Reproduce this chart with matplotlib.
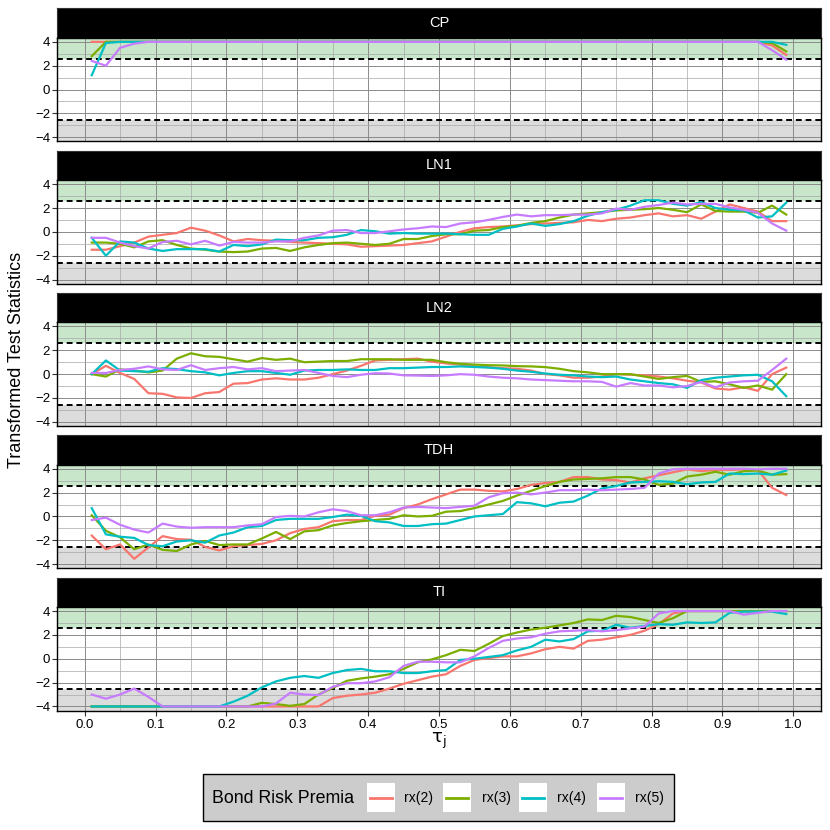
import numpy as np
import matplotlib
matplotlib.use("Agg")
import matplotlib.pyplot as plt
from matplotlib.patches import Rectangle
from matplotlib.lines import Line2D

plt.rcParams['font.family'] = ['Liberation Sans', 'DejaVu Sans']
plt.rcParams['mathtext.fontset'] = 'dejavusans'

# quantile grid
tau = [0.01, 0.03, 0.05, 0.07, 0.09, 0.11, 0.13, 0.15, 0.17, 0.19,
       0.21, 0.23, 0.25, 0.27, 0.29, 0.31, 0.33, 0.35, 0.37, 0.39,
       0.41, 0.43, 0.45, 0.47, 0.49, 0.51, 0.53, 0.55, 0.57, 0.59,
       0.61, 0.63, 0.65, 0.67, 0.69, 0.71, 0.73, 0.75, 0.77, 0.79,
       0.81, 0.83, 0.85, 0.87, 0.89, 0.91, 0.93, 0.95, 0.97, 0.99]

series_labels = ['rx(2)', 'rx(3)', 'rx(4)', 'rx(5)']
panel_names = ['CP', 'LN1', 'LN2', 'TDH', 'TI']
crit = 2.576

# ---- CP
cp_rx2 = [4.0, 4.0, 4.0, 4.0, 4.0, 4.0, 4.0, 4.0, 4.0, 4.0,
          4.0, 4.0, 4.0, 4.0, 4.0, 4.0, 4.0, 4.0, 4.0, 4.0,
          4.0, 4.0, 4.0, 4.0, 4.0, 4.0, 4.0, 4.0, 4.0, 4.0,
          4.0, 4.0, 4.0, 4.0, 4.0, 4.0, 4.0, 4.0, 4.0, 4.0,
          4.0, 4.0, 4.0, 4.0, 4.0, 4.0, 4.0, 4.0, 3.7, 2.9]
cp_rx3 = [2.8, 4.0, 4.0, 4.0, 4.0, 4.0, 4.0, 4.0, 4.0, 4.0,
          4.0, 4.0, 4.0, 4.0, 4.0, 4.0, 4.0, 4.0, 4.0, 4.0,
          4.0, 4.0, 4.0, 4.0, 4.0, 4.0, 4.0, 4.0, 4.0, 4.0,
          4.0, 4.0, 4.0, 4.0, 4.0, 4.0, 4.0, 4.0, 4.0, 4.0,
          4.0, 4.0, 4.0, 4.0, 4.0, 4.0, 4.0, 4.0, 3.9, 3.2]
cp_rx4 = [1.2, 3.9, 4.0, 4.0, 4.0, 4.0, 4.0, 4.0, 4.0, 4.0,
          4.0, 4.0, 4.0, 4.0, 4.0, 4.0, 4.0, 4.0, 4.0, 4.0,
          4.0, 4.0, 4.0, 4.0, 4.0, 4.0, 4.0, 4.0, 4.0, 4.0,
          4.0, 4.0, 4.0, 4.0, 4.0, 4.0, 4.0, 4.0, 4.0, 4.0,
          4.0, 4.0, 4.0, 4.0, 4.0, 4.0, 4.0, 4.0, 4.0, 3.75]
cp_rx5 = [2.4, 2.0, 3.5, 3.85, 4.0, 4.0, 4.0, 4.0, 4.0, 4.0,
          4.0, 4.0, 4.0, 4.0, 4.0, 4.0, 4.0, 4.0, 4.0, 4.0,
          4.0, 4.0, 4.0, 4.0, 4.0, 4.0, 4.0, 4.0, 4.0, 4.0,
          4.0, 4.0, 4.0, 4.0, 4.0, 4.0, 4.0, 4.0, 4.0, 4.0,
          4.0, 4.0, 4.0, 4.0, 4.0, 4.0, 4.0, 4.0, 3.3, 2.5]

# ---- LN1
ln1_rx2 = [-1.5, -1.5, -1.2, -0.9, -0.4, -0.25, -0.1, 0.35, 0.1, -0.3,
           -0.8, -0.6, -0.7, -0.75, -0.85, -0.9, -0.95, -1.0, -1.05, -1.25,
           -1.2, -1.15, -1.1, -0.95, -0.8, -0.4, 0.0, 0.3, 0.4, 0.45,
           0.55, 0.65, 0.7, 0.75, 0.8, 1.0, 0.9, 1.1, 1.2, 1.4,
           1.55, 1.3, 1.4, 1.1, 1.7, 2.3, 2.0, 1.7, 0.9, 0.9]
ln1_rx3 = [-0.9, -0.9, -1.0, -1.3, -0.8, -0.7, -1.1, -1.4, -1.5, -1.65,
           -1.7, -1.65, -1.4, -1.35, -1.6, -1.3, -1.1, -0.95, -0.9, -1.0,
           -1.1, -1.0, -0.6, -0.6, -0.35, -0.2, -0.2, 0.1, 0.15, 0.4,
           0.5, 0.75, 0.9, 1.2, 1.45, 1.55, 1.65, 1.8, 1.85, 1.9,
           2.0, 1.85, 1.65, 2.3, 1.75, 1.7, 1.7, 1.6, 2.2, 1.45]
ln1_rx4 = [-0.5, -2.0, -0.8, -0.9, -1.4, -1.6, -1.45, -1.45, -1.45, -1.65,
           -1.1, -1.2, -1.05, -0.65, -0.7, -0.7, -0.5, -0.45, -0.25, 0.15,
           0.05, -0.15, -0.1, -0.15, -0.15, -0.15, -0.2, -0.25, -0.25, 0.25,
           0.45, 0.7, 0.5, 0.65, 0.9, 1.35, 1.65, 1.85, 2.2, 2.65,
           2.65, 2.35, 2.2, 2.5, 2.0, 1.85, 1.8, 1.2, 1.3, 2.45]
ln1_rx5 = [-0.5, -0.5, -0.9, -1.2, -1.4, -0.85, -0.75, -1.05, -0.75, -1.15,
           -0.85, -0.9, -0.9, -0.8, -0.8, -0.5, -0.3, 0.1, 0.15, -0.1,
           -0.1, 0.05, 0.2, 0.3, 0.45, 0.4, 0.7, 0.8, 1.0, 1.25,
           1.45, 1.3, 1.4, 1.4, 1.45, 1.45, 1.55, 1.95, 1.85, 2.1,
           2.25, 2.45, 2.3, 2.35, 2.35, 2.05, 1.85, 1.6, 0.7, 0.1]

# ---- LN2
ln2_rx2 = [0.0, 0.7, 0.1, -0.4, -1.6, -1.65, -1.95, -2.0, -1.6, -1.5,
           -0.8, -0.75, -0.45, -0.35, -0.45, -0.45, -0.3, 0.0, 0.3, 0.7,
           1.15, 1.2, 1.25, 1.3, 1.05, 0.9, 0.8, 0.65, 0.58, 0.5,
           0.45, 0.3, 0.0, -0.1, -0.3, -0.3, -0.2, 0.0, -0.05, -0.1,
           -0.2, -0.35, -0.55, -0.7, -1.2, -1.3, -1.1, -1.4, 0.0, 0.55]
ln2_rx3 = [0.0, -0.2, 0.4, 0.3, 0.15, 0.3, 1.3, 1.75, 1.5, 1.45,
           1.25, 1.05, 1.35, 1.2, 1.3, 1.0, 1.05, 1.1, 1.1, 1.25,
           1.25, 1.25, 1.2, 1.2, 1.2, 1.0, 0.87, 0.8, 0.75, 0.73,
           0.67, 0.65, 0.59, 0.45, 0.25, 0.15, 0.0, 0.0, 0.0, -0.2,
           -0.4, -0.25, -0.15, -0.65, -0.6, -0.85, -1.15, -0.95, -1.3, 0.0]
ln2_rx4 = [0.0, 1.15, 0.3, 0.25, 0.2, 0.5, 0.42, 0.25, 0.15, -0.1,
           0.1, 0.25, 0.25, 0.1, -0.05, 0.3, 0.35, 0.35, 0.4, 0.35,
           0.35, 0.5, 0.5, 0.55, 0.6, 0.6, 0.65, 0.6, 0.55, 0.45,
           0.3, 0.2, 0.05, -0.05, -0.1, -0.2, -0.25, -0.2, -0.45, -0.6,
           -0.75, -0.85, -1.15, -0.5, -0.3, -0.2, -0.1, -0.05, -0.6, -1.85]
ln2_rx5 = [0.1, 0.1, 0.35, 0.45, 0.65, 0.4, 0.35, 0.75, 0.35, 0.5,
           0.6, 0.4, 0.5, 0.25, 0.3, 0.35, 0.1, -0.15, -0.25, -0.05,
           0.08, 0.05, -0.1, -0.12, -0.15, -0.1, 0.0, -0.05, -0.2, -0.3,
           -0.35, -0.45, -0.5, -0.55, -0.6, -0.6, -0.65, -1.05, -0.75, -0.95,
           -0.95, -1.1, -1.0, -0.65, -1.1, -0.7, -0.6, -0.55, 0.35, 1.3]

# ---- TDH
tdh_rx2 = [-1.6, -2.75, -2.35, -3.55, -2.6, -1.65, -1.9, -1.95, -2.55, -2.85,
           -2.5, -2.4, -2.3, -2.0, -1.4, -1.05, -0.9, -0.4, -0.3, -0.3,
           0.05, 0.15, 0.7, 1.0, 1.45, 1.85, 2.25, 2.25, 2.15, 2.1,
           2.3, 2.65, 2.8, 2.9, 3.3, 3.3, 3.1, 3.05, 2.85, 3.2,
           3.45, 3.7, 3.95, 3.8, 3.9, 3.9, 3.95, 3.9, 2.4, 1.8]
tdh_rx3 = [0.1, -1.2, -1.75, -2.75, -2.35, -2.8, -2.9, -2.35, -2.05, -2.4,
           -2.35, -2.35, -1.85, -1.3, -1.9, -1.25, -1.15, -0.75, -0.55, -0.4,
           -0.3, -0.2, 0.1, 0.0, 0.05, 0.4, 0.45, 0.7, 1.0, 1.3,
           1.75, 2.15, 2.55, 2.9, 3.1, 3.15, 3.2, 3.3, 3.3, 3.1,
           2.65, 2.75, 3.35, 3.5, 3.75, 3.5, 3.8, 3.85, 3.5, 3.55]
tdh_rx4 = [0.7, -1.5, -1.7, -1.8, -2.4, -2.5, -2.1, -2.0, -2.2, -1.6,
           -1.35, -0.9, -0.8, -0.3, -0.2, -0.2, -0.2, -0.05, 0.15, 0.05,
           -0.4, -0.5, -0.8, -0.8, -0.65, -0.6, -0.3, 0.0, 0.1, 0.2,
           1.2, 1.1, 0.85, 1.15, 1.25, 1.75, 2.35, 2.55, 2.85, 2.9,
           2.95, 2.9, 2.7, 2.85, 2.9, 3.6, 3.55, 3.6, 3.5, 3.85]
tdh_rx5 = [-0.3, -0.1, -0.7, -1.1, -1.35, -0.6, -0.85, -0.95, -0.9, -0.9,
           -0.9, -0.75, -0.65, -0.05, 0.05, 0.0, 0.35, 0.6, 0.45, 0.1,
           0.1, 0.35, 0.75, 0.8, 0.75, 0.7, 0.8, 0.9, 1.6, 1.95,
           2.0, 1.85, 2.0, 2.2, 2.2, 2.25, 2.2, 2.25, 2.3, 2.4,
           3.6, 3.95, 4.0, 4.0, 4.0, 4.0, 4.0, 3.95, 4.0, 4.0]

# ---- TI
ti_rx2 = [-4.0, -4.0, -4.0, -4.0, -4.0, -4.0, -4.0, -4.0, -4.0, -4.0,
          -4.0, -4.0, -4.0, -4.0, -4.0, -4.0, -4.0, -3.3, -3.1, -3.0,
          -2.85, -2.5, -2.1, -1.8, -1.5, -1.3, -0.6, -0.1, 0.05, 0.2,
          0.2, 0.45, 0.8, 1.0, 0.85, 1.5, 1.6, 1.8, 2.0, 2.35,
          2.9, 3.8, 4.0, 4.0, 4.0, 4.0, 4.0, 4.0, 4.0, 4.0]
ti_rx3 = [-4.0, -4.0, -4.0, -4.0, -4.0, -4.0, -4.0, -4.0, -4.0, -4.0,
          -4.0, -4.0, -3.7, -3.8, -3.95, -3.8, -3.0, -2.45, -1.85, -1.65,
          -1.5, -1.3, -0.85, -0.3, -0.05, 0.3, 0.75, 0.65, 1.25, 1.9,
          2.2, 2.45, 2.6, 2.8, 3.0, 3.3, 3.25, 3.6, 3.5, 3.25,
          3.0, 3.4, 4.0, 4.0, 4.0, 4.0, 4.0, 4.0, 4.0, 4.0]
ti_rx4 = [-4.0, -4.0, -4.0, -4.0, -4.0, -4.0, -4.0, -4.0, -4.0, -4.0,
          -3.6, -3.1, -2.4, -1.9, -1.6, -1.45, -1.6, -1.2, -0.95, -0.85,
          -1.05, -1.05, -1.2, -1.2, -1.05, -0.95, -0.1, 0.0, 0.15, 0.3,
          0.7, 1.0, 1.6, 1.45, 1.65, 2.3, 2.35, 2.85, 2.6, 2.75,
          2.9, 2.85, 3.05, 3.0, 3.05, 3.85, 3.95, 3.95, 3.95, 3.75]
ti_rx5 = [-3.0, -3.35, -3.0, -2.5, -3.2, -4.0, -4.0, -4.0, -4.0, -4.0,
          -4.0, -4.0, -4.0, -3.75, -2.85, -3.0, -3.05, -2.35, -2.05, -2.05,
          -1.9, -1.55, -0.6, -0.25, -0.25, -0.3, -0.3, 0.2, 0.9, 1.5,
          1.7, 1.8, 2.1, 2.3, 2.35, 2.4, 2.3, 2.4, 2.55, 2.7,
          3.8, 4.0, 4.0, 4.0, 4.0, 4.0, 3.7, 3.85, 4.0, 4.0]

panel_series = [
    [cp_rx2, cp_rx3, cp_rx4, cp_rx5],
    [ln1_rx2, ln1_rx3, ln1_rx4, ln1_rx5],
    [ln2_rx2, ln2_rx3, ln2_rx4, ln2_rx5],
    [tdh_rx2, tdh_rx3, tdh_rx4, tdh_rx5],
    [ti_rx2, ti_rx3, ti_rx4, ti_rx5],
]

colors = ['#F8766D', '#7CAE00', '#00BFC4', '#C77CFF']
green_band = '#c8e6c9'
grey_band = '#dcdcdc'

W = 830.0
def fx(px):
    return px / W
def fy(py):
    return 1 - py / W

fig = plt.figure(figsize=(8.3, 8.3), dpi=100)

left, width = 57, 764
top0, period, strip_h, plot_h = 8.3, 142.3, 29.5, 103.5

for i, name in enumerate(panel_names):
    top = top0 + i * period
    # strip
    sax = fig.add_axes([fx(left), fy(top + strip_h), fx(width), strip_h / W])
    sax.set_facecolor('black')
    sax.set_xticks([])
    sax.set_yticks([])
    for sp in sax.spines.values():
        sp.set_color('#333333')
    sax.text(0.5, 0.5, name, color='white', ha='center', va='center',
             fontsize=10.5, transform=sax.transAxes)

    ax = fig.add_axes([fx(left), fy(top + strip_h + plot_h), fx(width), plot_h / W])
    ax.set_xlim(-0.039, 1.039)
    ax.set_ylim(-4.34, 4.34)
    ax.axhspan(crit, 10, color=green_band, lw=0, zorder=0.1)
    ax.axhspan(-10, -crit, color=grey_band, lw=0, zorder=0.1)
    ax.set_xticks(np.arange(0, 1.01, 0.1))
    ax.set_xticks(np.arange(0.05, 1.0, 0.1), minor=True)
    ax.set_yticks([-4, -2, 0, 2, 4])
    ax.set_yticks([-3, -1, 1, 3], minor=True)
    ax.set_yticklabels(['\u22124', '\u22122', '0', '2', '4'])
    ax.set_axisbelow(True)
    ax.grid(which='major', color='#8a8a8a', lw=0.7)
    ax.grid(which='minor', color='#a8a8a8', lw=0.5)
    ax.axhline(crit, color='black', lw=1.4, ls=(0, (3, 2)), zorder=2)
    ax.axhline(-crit, color='black', lw=1.4, ls=(0, (3, 2)), zorder=2)

    for vals, col in zip(panel_series[i], colors):
        ax.plot(tau, vals, color=col, lw=1.6, zorder=3)

    for sp in ax.spines.values():
        sp.set_color('black')
        sp.set_linewidth(1.0)
    ax.tick_params(which='major', length=3.5, width=0.8, labelsize=9.5, pad=1.5,
                   color='#333333', labelcolor='black')
    ax.tick_params(which='minor', length=0)
    if i < len(panel_names) - 1:
        ax.tick_params(axis='x', bottom=False, labelbottom=False)
    else:
        ax.set_xticklabels(['%.1f' % v for v in np.arange(0, 1.01, 0.1)])
        ax.tick_params(axis='x', pad=2.5)

fig.text(fx(17), fy(360), 'Transformed Test Statistics', rotation=90,
         ha='center', va='center', fontsize=13)
fig.text(fx(439), fy(741), r'$\mathrm{\tau}_\mathrm{j}$', ha='center', va='center',
         fontsize=13)

# legend drawn by hand to keep the title inline
box = Rectangle((fx(203), fy(821)), fx(471), 47 / W, transform=fig.transFigure,
                facecolor='#cccccc', edgecolor='black', lw=1.0)
fig.add_artist(box)
fig.text(fx(212), fy(798), 'Bond Risk Premia', ha='left', va='center', fontsize=12.8)
key_x = [367, 443, 519, 597]
lab_x = [404, 482, 557, 635]
for kx, lx, col, lab in zip(key_x, lab_x, colors, series_labels):
    fig.add_artist(Rectangle((fx(kx), fy(812)), fx(28), 29 / W,
                             transform=fig.transFigure, facecolor='white',
                             edgecolor='none'))
    fig.add_artist(Line2D([fx(kx + 3), fx(kx + 25)], [fy(797.5), fy(797.5)],
                          transform=fig.transFigure, color=col, lw=2.0))
    fig.text(fx(lx), fy(798), lab, ha='left', va='center', fontsize=10)

fig.savefig('out.png', dpi=100)
